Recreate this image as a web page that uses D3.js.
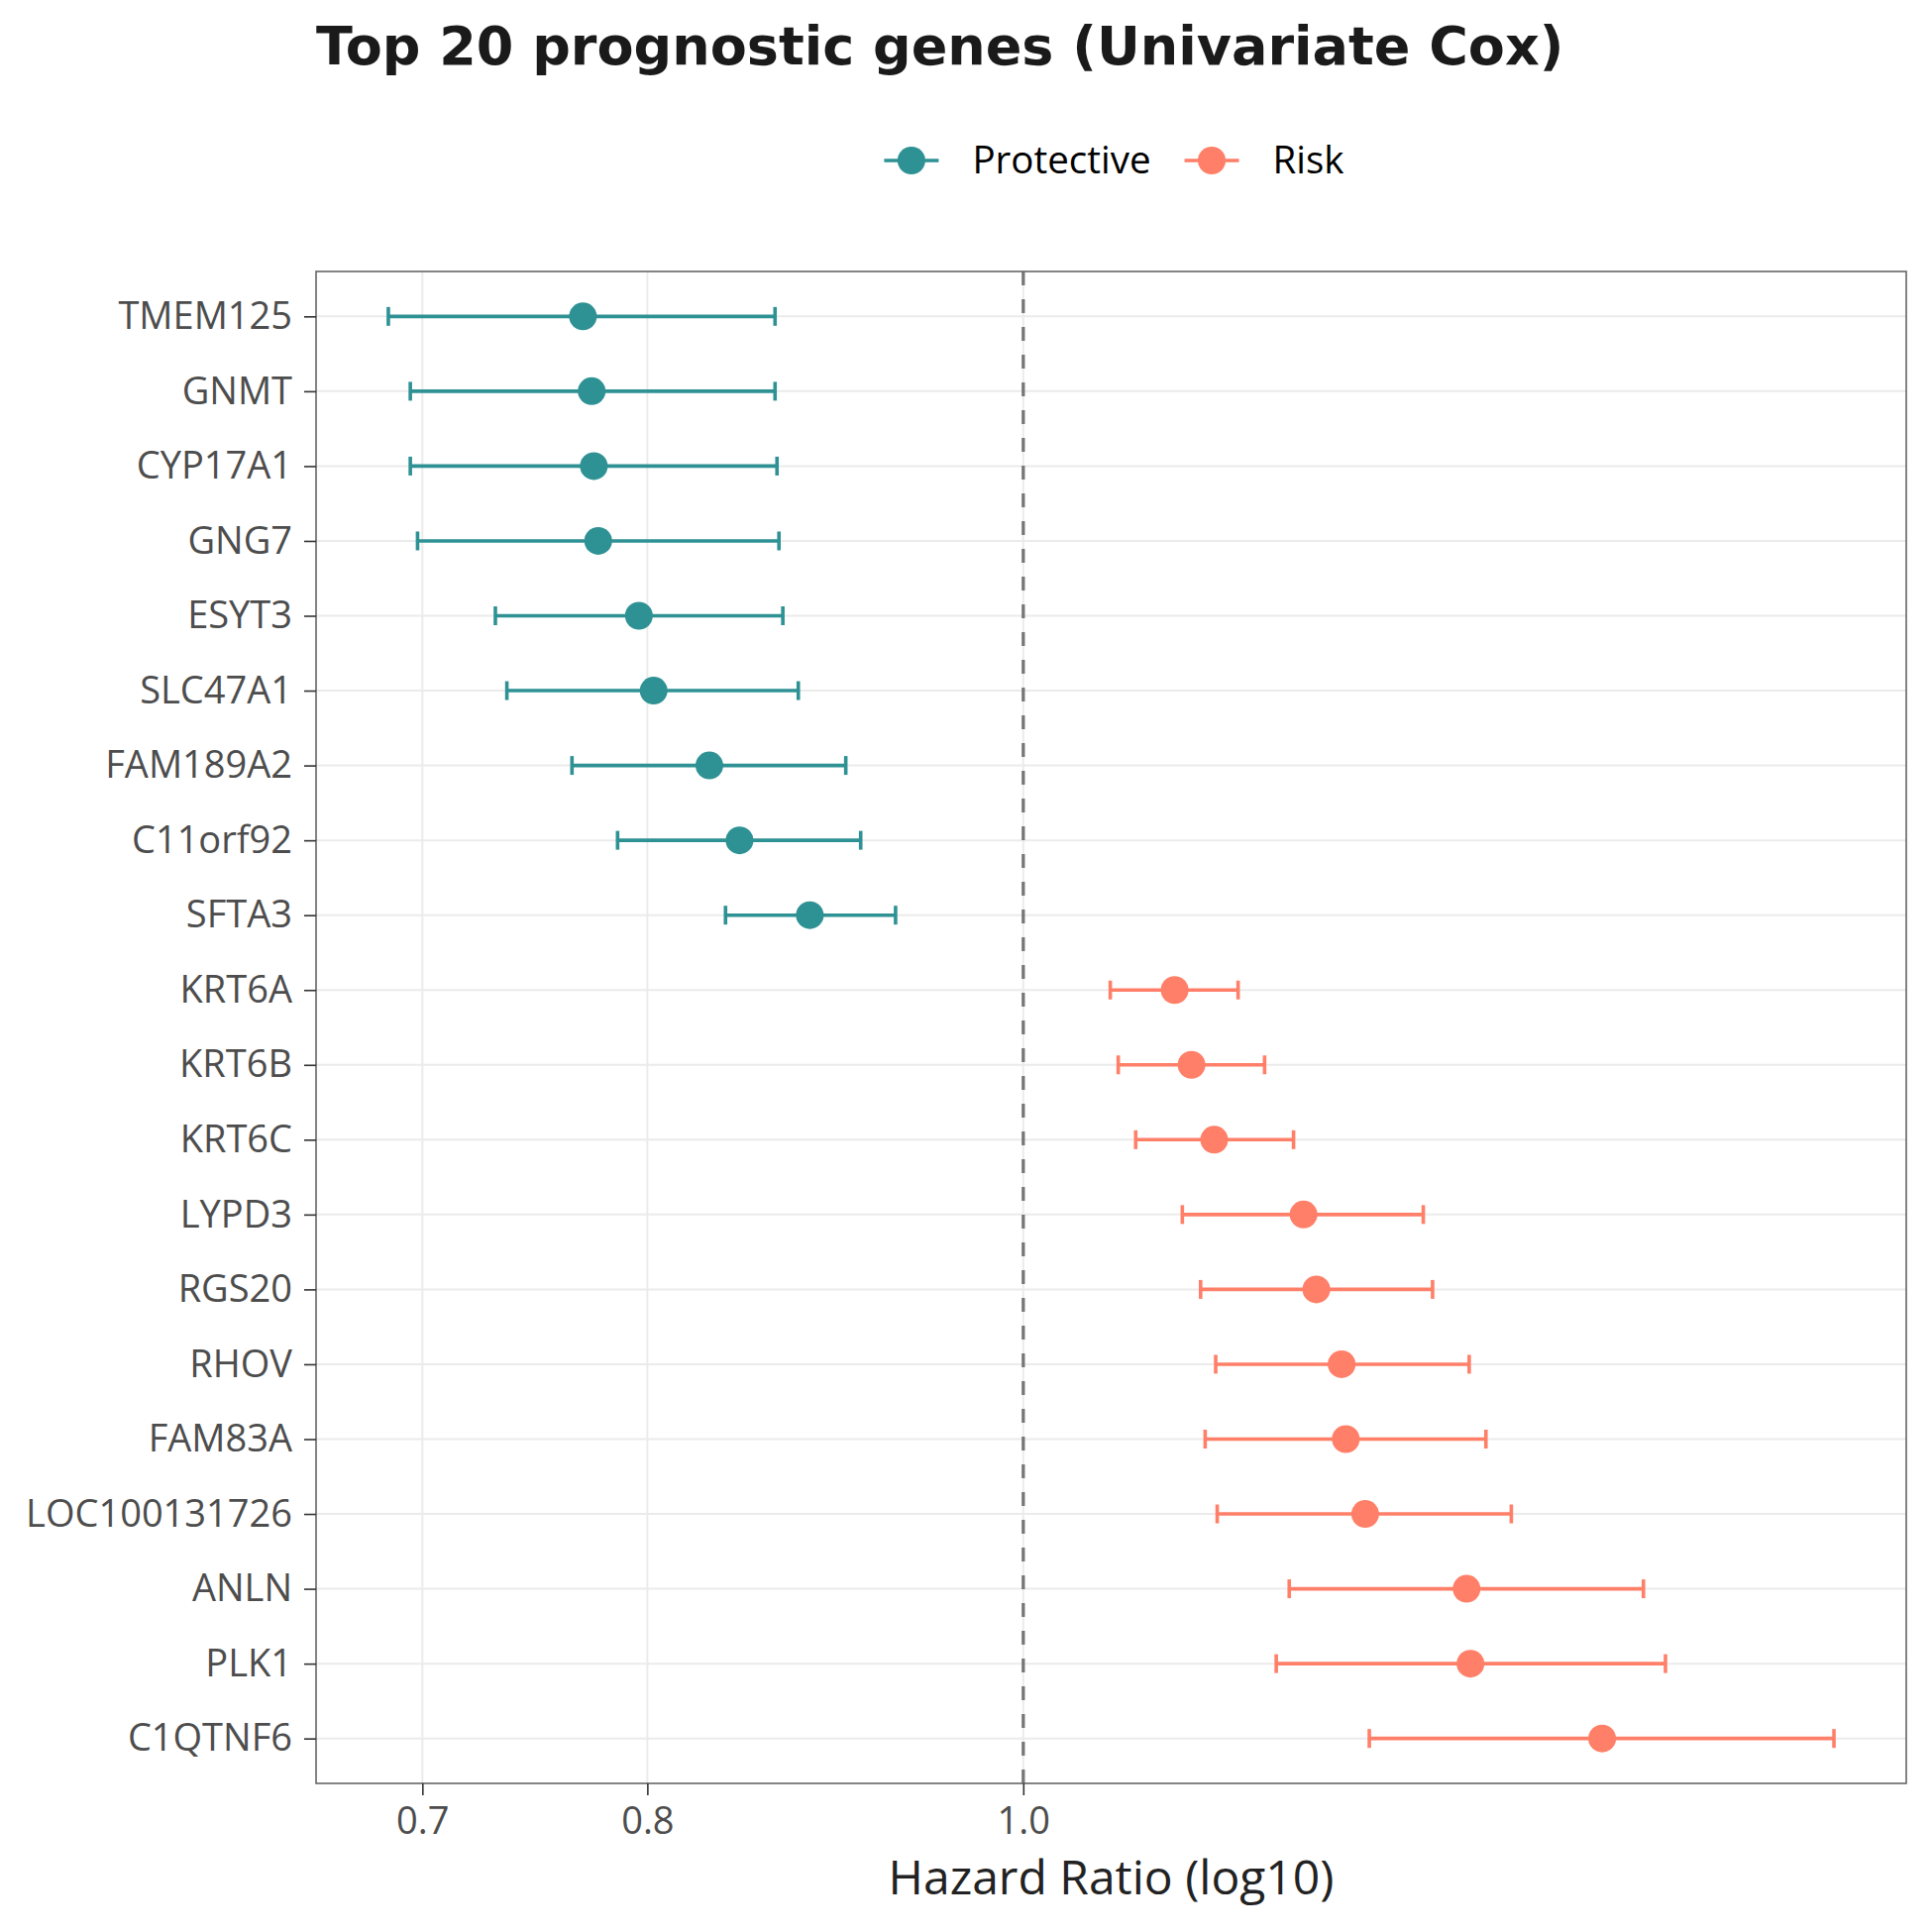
<!DOCTYPE html>
<html lang="en">
<head>
  <meta charset="UTF-8" />
  <title>Top 20 prognostic genes</title>
  <script src="https://d3js.org/d3.v7.min.js"></script>
  <style>
    body { margin: 0; padding: 0; background: #fff; }
    svg { display: block; }
  </style>
</head>
<body>
  <svg width="1950" height="1950"></svg>

  <script>
    // genes, top to bottom
    const genes = ["TMEM125", "GNMT", "CYP17A1", "GNG7", "ESYT3", "SLC47A1", "FAM189A2", "C11orf92", "SFTA3",
      "KRT6A", "KRT6B", "KRT6C", "LYPD3", "RGS20", "RHOV", "FAM83A", "LOC100131726", "ANLN", "PLK1", "C1QTNF6"];
    const hr = [0.770, 0.774, 0.775, 0.777, 0.796, 0.803, 0.830, 0.845, 0.881,
      1.094, 1.105, 1.120, 1.181, 1.190, 1.208, 1.211, 1.225, 1.301, 1.304, 1.410];
    const ciLow = [0.686, 0.695, 0.695, 0.698, 0.731, 0.736, 0.765, 0.786, 0.838,
      1.053, 1.058, 1.069, 1.099, 1.111, 1.121, 1.114, 1.122, 1.171, 1.162, 1.228];
    const ciHigh = [0.863, 0.863, 0.864, 0.865, 0.867, 0.875, 0.900, 0.908, 0.927,
      1.136, 1.154, 1.174, 1.268, 1.275, 1.303, 1.316, 1.336, 1.445, 1.464, 1.618];
    const groups = ["Protective", "Risk"];
    const xTicks = [0.7, 0.8, 1.0];

    const colors = { "Protective": "#2E9194", "Risk": "#FF7F68" };
    const font = "'Open Sans', 'Noto Sans', sans-serif";

    const data = genes.map((g, i) => ({
      gene: g, hr: hr[i], lo: ciLow[i], hi: ciHigh[i],
      group: hr[i] < 1 ? "Protective" : "Risk"
    }));

    const svg = d3.select("svg");
    const panel = { left: 319, right: 1924, top: 274, bottom: 1800 };

    // log x scale with ggplot-like 5% expansion
    const lmin = Math.log10(d3.min(ciLow)), lmax = Math.log10(d3.max(ciHigh));
    const pad = (lmax - lmin) * 0.05;
    const x = d3.scaleLog()
      .domain([Math.pow(10, lmin - pad), Math.pow(10, lmax + pad)])
      .range([panel.left, panel.right]);

    const y = d3.scalePoint()
      .domain(genes)
      .range([panel.top, panel.bottom])
      .padding(0.6);

    // grid
    const grid = svg.append("g");
    grid.selectAll("line.h").data(genes).join("line")
      .attr("x1", panel.left).attr("x2", panel.right)
      .attr("y1", d => y(d)).attr("y2", d => y(d))
      .attr("stroke", "#ebebeb").attr("stroke-width", 2);
    grid.selectAll("line.v").data(xTicks).join("line")
      .attr("x1", d => x(d)).attr("x2", d => x(d))
      .attr("y1", panel.top).attr("y2", panel.bottom)
      .attr("stroke", "#ebebeb").attr("stroke-width", 2);

    // reference line at HR = 1
    svg.append("line")
      .attr("x1", x(1)).attr("x2", x(1))
      .attr("y1", panel.top).attr("y2", panel.bottom)
      .attr("stroke", "#777").attr("stroke-width", 3.3)
      .attr("stroke-dasharray", "14,14");

    // error bars
    const capH = 9.5;
    const bars = svg.append("g").selectAll("g").data(data).join("g")
      .attr("stroke", d => colors[d.group])
      .attr("stroke-width", 3.6);
    bars.append("line")
      .attr("x1", d => x(d.lo)).attr("x2", d => x(d.hi))
      .attr("y1", d => y(d.gene)).attr("y2", d => y(d.gene));
    bars.append("line")
      .attr("x1", d => x(d.lo)).attr("x2", d => x(d.lo))
      .attr("y1", d => y(d.gene) - capH).attr("y2", d => y(d.gene) + capH);
    bars.append("line")
      .attr("x1", d => x(d.hi)).attr("x2", d => x(d.hi))
      .attr("y1", d => y(d.gene) - capH).attr("y2", d => y(d.gene) + capH);

    svg.append("g").selectAll("circle").data(data).join("circle")
      .attr("cx", d => x(d.hr)).attr("cy", d => y(d.gene))
      .attr("r", 14)
      .attr("fill", d => colors[d.group]);

    // panel border
    svg.append("rect")
      .attr("x", panel.left).attr("y", panel.top)
      .attr("width", panel.right - panel.left).attr("height", panel.bottom - panel.top)
      .attr("fill", "none").attr("stroke", "#666").attr("stroke-width", 1.6);

    // axes
    const xAxis = svg.append("g")
      .attr("transform", `translate(0,${panel.bottom})`)
      .call(d3.axisBottom(x).tickValues(xTicks).tickFormat(d3.format(".1f")).tickSize(12).tickPadding(12));
    const yAxis = svg.append("g")
      .attr("transform", `translate(${panel.left},0)`)
      .call(d3.axisLeft(y).tickSize(12).tickPadding(12));
    [xAxis, yAxis].forEach(a => {
      a.select(".domain").remove();
      a.selectAll(".tick line").attr("stroke", "#333").attr("stroke-width", 1.6);
      a.selectAll(".tick text")
        .attr("font-family", font)
        .attr("font-size", 38)
        .attr("fill", "#4d4d4d");
    });

    // axis title
    svg.append("text")
      .attr("x", (panel.left + panel.right) / 2)
      .attr("y", 1912)
      .attr("text-anchor", "middle")
      .attr("font-family", font)
      .attr("font-size", 48)
      .attr("fill", "#222")
      .text("Hazard Ratio (log10)");

    // title
    svg.append("text")
      .attr("x", 319)
      .attr("y", 65)
      .attr("font-family", "'DejaVu Sans', sans-serif")
      .attr("font-weight", "bold")
      .attr("font-size", 54)
      .attr("fill", "#1a1a1a")
      .text("Top 20 prognostic genes (Univariate Cox)");

    // legend
    const legend = svg.append("g");
    let lx = 0;
    groups.forEach(gr => {
      const item = legend.append("g").attr("transform", `translate(${lx},0)`);
      item.append("line")
        .attr("x1", 0).attr("x2", 55).attr("y1", 0).attr("y2", 0)
        .attr("stroke", colors[gr]).attr("stroke-width", 3.6);
      item.append("circle").attr("cx", 27.5).attr("cy", 0).attr("r", 14).attr("fill", colors[gr]);
      const t = item.append("text")
        .attr("x", 89).attr("y", 0).attr("dy", "0.35em")
        .attr("font-family", font)
        .attr("font-size", 38.5)
        .attr("fill", "#000")
        .text(gr);
      lx += 89 + t.node().getComputedTextLength() + 34;
    });
    const lw = lx - 34;
    legend.attr("transform", `translate(${(panel.left + panel.right) / 2 - lw / 2 + 3},162)`);
  </script>
</body>
</html>
